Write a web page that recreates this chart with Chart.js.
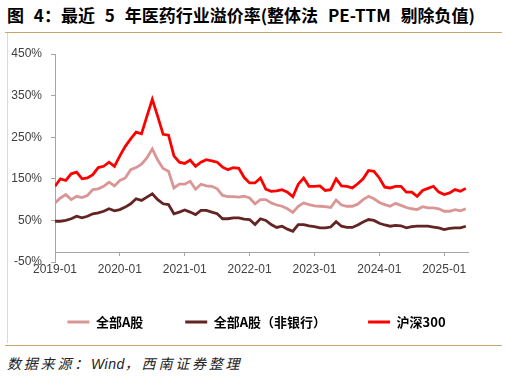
<!DOCTYPE html>
<html>
<head>
<meta charset="utf-8">
<script src="https://cdn.jsdelivr.net/npm/chart.js@4.4.1/dist/chart.umd.min.js"></script>
<style>
  html, body { margin: 0; padding: 0; background: #fff; }
  body { width: 507px; height: 378px; position: relative; overflow: hidden; }
  #title { position: absolute; left: 7px; top: 5px; font: bold 17px/20px "Noto Sans CJK SC", sans-serif; word-spacing: 6px; white-space: nowrap; color: #000; }
  .gold { position: absolute; left: 5px; width: 497px; height: 0; border-top: 1.5px solid #C9A56A; }
  #leftline { position: absolute; left: 7px; top: 33px; width: 0; height: 310px; border-left: 1px solid #D9D9D9; }
  #src { position: absolute; left: 7px; top: 355px; font: italic 14px/18px "Liberation Sans", "Noto Sans CJK SC", sans-serif; letter-spacing: 2.8px; white-space: nowrap; color: #222; }
  #src span { letter-spacing: 0.5px; }
  canvas { position: absolute; left: 0; top: 0; }
</style>
</head>
<body>
<div id="title">图 4：最近 5 年医药行业溢价率(整体法 PE-TTM 剔除负值)</div>
<div class="gold" style="top:32px"></div>
<div id="leftline"></div>
<div class="gold" style="top:345px"></div>
<div id="src">数据来源：<span>Wind</span>，西南证券整理</div>
<canvas id="c" width="507" height="378"></canvas>
<script>
// ---- data ----
const seriesNames = ['全部A股', '全部A股（非银行）', '沪深300'];
const xTickLabels = ['2019-01', '2020-01', '2021-01', '2022-01', '2023-01', '2024-01', '2025-01'];
const yTicks = [-50, 50, 150, 250, 350, 450];
const axisEnd = '2025-05-13';

// monthly observations, 2019-01 .. 2025-05
const dates = [];
for (let y = 2019; y <= 2025; y++) {
  for (let m = 1; m <= 12; m++) {
    if (y === 2025 && m > 5) break;
    dates.push(y + '-' + String(m).padStart(2, '0'));
  }
}

const allA = [92,104,112,100,108,105,110,124,126,132,
  142,133,146,152,172,177,185,200,222,195,
  175,168,128,137,137,144,125,137,133,132,
  126,110,107,107,106,108,104,90,100,100,
  92,87,84,78,69,84,92,88,85,84,
  83,81,99,87,84,84,89,100,108,102,
  93,88,84,91,86,81,78,76,83,80,
  80,78,72,72,76,73,78];

const allAexBank = [48,48,50,54,60,56,60,66,68,72,
  78,73,76,82,90,102,98,106,114,100,
  90,88,66,70,75,70,64,74,74,70,
  66,54,54,56,56,53,52,40,54,50,
  40,33,36,29,24,40,40,37,35,32,
  32,34,47,36,33,33,39,46,52,50,
  43,39,36,38,37,32,35,36,36,36,
  34,32,28,31,32,32,36];

const hs300 = [132,150,146,162,166,150,152,160,177,180,
  190,180,205,228,246,262,258,300,341,300,
  257,255,205,190,187,195,180,190,196,193,
  190,178,172,177,175,153,140,140,152,125,
  120,121,124,118,107,137,152,132,132,133,
  122,124,150,133,132,128,138,150,170,168,
  152,130,128,132,132,118,118,108,122,127,
  132,118,112,116,124,120,127];

const colors = ['#D99694', '#632523', '#FF0000'];

// ---- helpers ----
function monthIndex(s) {
  const p = s.split('-').map(Number);
  return (p[0] - 2019) * 12 + (p[1] - 1) + ((p[2] || 1) - 1) / 30;
}
function toPoints(arr) {
  return arr.map((v, i) => ({ x: monthIndex(dates[i]), y: v }));
}

const axisColor = '#A6A6A6';
const tickFont = { family: '"Liberation Sans", Arial, sans-serif', size: 12 };

new Chart(document.getElementById('c'), {
  type: 'line',
  data: {
    datasets: [allA, allAexBank, hs300].map((arr, i) => ({
      label: seriesNames[i],
      data: toPoints(arr),
      borderColor: colors[i],
      backgroundColor: colors[i],
      borderWidth: 2.8,
      pointRadius: 0,
      tension: 0,
      fill: false
    }))
  },
  options: {
    responsive: false,
    animation: false,
    devicePixelRatio: 1,
    layout: { padding: { left: 6, right: 0, top: 54, bottom: 39.5 } },
    scales: {
      x: {
        type: 'linear',
        position: { y: -27 },
        min: 0,
        max: monthIndex(axisEnd),
        afterFit: (s) => { s.height = 0; },
        afterBuildTicks: (s) => { s.ticks = xTickLabels.map(l => ({ value: monthIndex(l) })); },
        ticks: {
          autoSkip: false,
          maxRotation: 0,
          padding: 7,
          color: '#404040',
          font: tickFont,
          callback: (v) => {
            const i = xTickLabels.findIndex(l => Math.abs(monthIndex(l) - v) < 1e-6);
            return i >= 0 ? xTickLabels[i] : '';
          }
        },
        grid: { display: true, drawOnChartArea: false, drawTicks: true, tickLength: 3, color: axisColor },
        border: { display: true, color: axisColor, width: 1 }
      },
      y: {
        type: 'linear',
        min: -50,
        max: 450,
        afterFit: (s) => { s.width = 49; },
        afterBuildTicks: (s) => { s.ticks = yTicks.map(v => ({ value: v })); },
        ticks: {
          padding: 9,
          color: '#404040',
          font: tickFont,
          callback: (v) => v + '%'
        },
        grid: { display: true, drawOnChartArea: false, drawTicks: true, tickLength: 4, color: axisColor },
        border: { display: true, color: axisColor, width: 1 }
      },
      yRight: {
        type: 'linear',
        position: 'right',
        display: true,
        afterFit: (s) => { s.width = 39; },
        ticks: { display: false },
        grid: { display: false },
        border: { display: false }
      }
    },
    plugins: {
      tooltip: { enabled: false },
      legend: {
        position: 'bottom',
        fullSize: true,
        title: { display: true, text: '', padding: 0, font: { size: 11.5, lineHeight: 1 } },
        labels: {
          usePointStyle: true,
          pointStyle: 'line',
          pointStyleWidth: 22,
          padding: 42,
          color: '#000',
          font: { family: '"Noto Sans CJK SC", sans-serif', size: 13, weight: 'bold' }
        }
      }
    }
  }
});
</script>
</body>
</html>
